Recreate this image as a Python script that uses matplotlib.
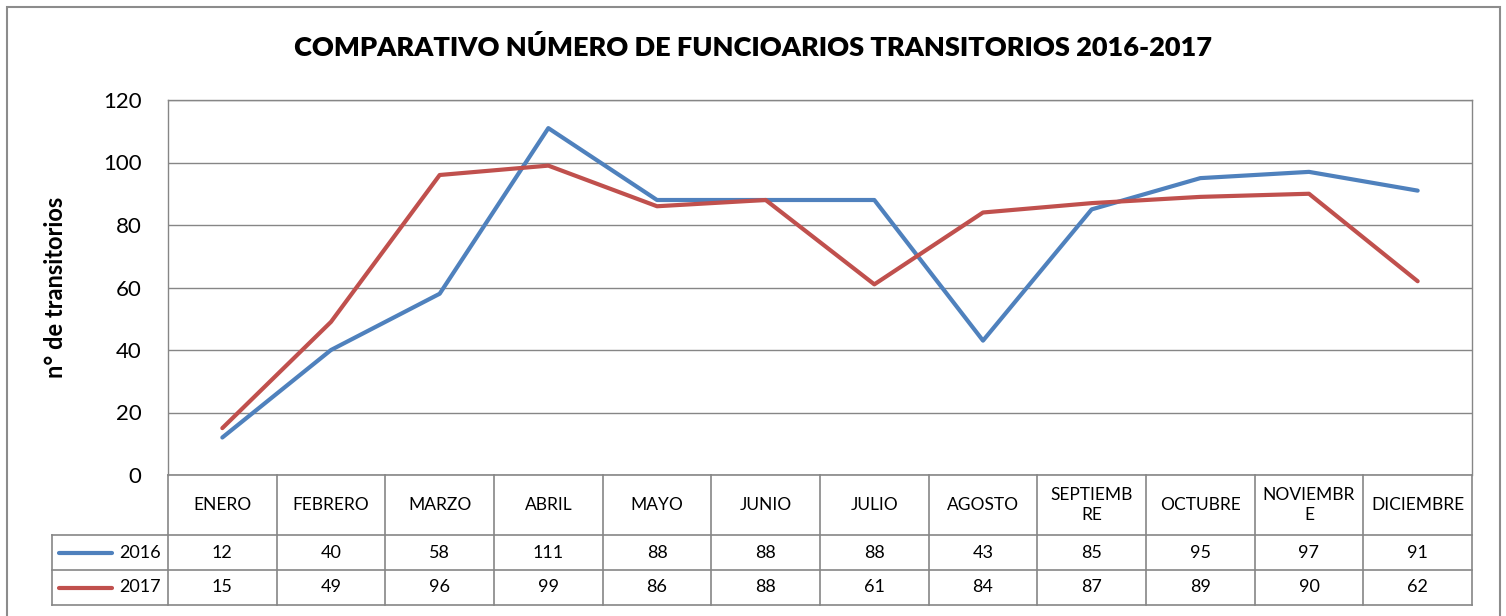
import numpy as np
import matplotlib.pyplot as plt

plt.rcParams['font.family'] = ['Lato', 'DejaVu Sans']

# === Data ===
months = ["ENERO", "FEBRERO", "MARZO", "ABRIL", "MAYO", "JUNIO", "JULIO",
          "AGOSTO", "SEPTIEMB\nRE", "OCTUBRE", "NOVIEMBR\nE", "DICIEMBRE"]
series_names = ["2016", "2017"]
vals_2016 = [12, 40, 58, 111, 88, 88, 88, 43, 85, 95, 97, 91]
vals_2017 = [15, 49, 96, 99, 86, 88, 61, 84, 87, 89, 90, 62]
yticks = [0, 20, 40, 60, 80, 100, 120]

colors = ["#4F81BD", "#C0504D"]
grid_c = "#868686"

W, H = 1506, 616
fig = plt.figure(figsize=(W / 100, H / 100), dpi=100)

# outer chart frame
fig.add_artist(plt.Rectangle((7 / W, -0.05), (1500 - 7) / W, 1.05 - 7 / H,
                             transform=fig.transFigure, fill=False,
                             ec="#8c8c8c", lw=1.5))

# plot area in pixels
left, right, top, bottom = 168, 1472, 100, 475
ax = fig.add_axes([left / W, (H - bottom) / H, (right - left) / W, (bottom - top) / H])

x = np.arange(len(months))
for vals, c, name in zip([vals_2016, vals_2017], colors, series_names):
    ax.plot(x, vals, color=c, lw=3, solid_capstyle="round", zorder=3)

ax.set_xlim(-0.5, len(months) - 0.5)
ax.set_ylim(0, 120)
ax.set_yticks(yticks)
ax.set_yticklabels([str(v) for v in yticks], fontsize=16)
ax.tick_params(axis="y", length=0, pad=19)
ax.set_xticks([])
ax.grid(axis="y", color=grid_c, lw=1)
for s in ax.spines.values():
    s.set_color(grid_c)
    s.set_linewidth(1)
ax.spines["bottom"].set_visible(False)

ax.set_ylabel("n° de transitorios", fontsize=17, fontweight="bold", labelpad=26)
fig.text(0.5, 1 - 47 / H, "COMPARATIVO NÚMERO DE FUNCIOARIOS TRANSITORIOS 2016-2017",
         ha="center", va="center", fontsize=19.5, fontweight="heavy")

# === Data table under the axis ===
ph = bottom - top
def fy(py):
    return (bottom - py) / ph

tr = ax.get_xaxis_transform()
y_head_top, y_head_bot, y_r1_bot, y_r2_bot = fy(475), fy(535), fy(570), fy(605)
lx = -0.5 - (left - 52) / ((right - left) / len(months))

lk = dict(color=grid_c, lw=1.2, transform=tr, clip_on=False)
ax.plot([-0.5, len(months) - 0.5], [y_head_top] * 2, **lk)
for yy in [y_head_bot, y_r1_bot, y_r2_bot]:
    ax.plot([lx, len(months) - 0.5], [yy] * 2, **lk)
for b in np.arange(-0.5, len(months), 1.0):
    ax.plot([b, b], [y_head_top, y_r2_bot], **lk)
ax.plot([lx, lx], [y_head_bot, y_r2_bot], **lk)

for i, m in enumerate(months):
    ax.text(i, (y_head_top + y_head_bot) / 2, m, transform=tr, ha="center",
            va="center", fontsize=12.5, linespacing=1.3, clip_on=False)

rows = [vals_2016, vals_2017]
row_mid = [(y_head_bot + y_r1_bot) / 2, (y_r1_bot + y_r2_bot) / 2]
for vals, ym, c, name in zip(rows, row_mid, colors, series_names):
    for i, v in enumerate(vals):
        ax.text(i, ym, str(v), transform=tr, ha="center", va="center",
                fontsize=13, clip_on=False)
    ax.plot([lx + 0.06, lx + 0.55], [ym, ym], color=c, lw=3,
            solid_capstyle="round", transform=tr, clip_on=False)
    ax.text(-0.57, ym, name, transform=tr, ha="right", va="center",
            fontsize=13, clip_on=False)

fig.savefig("out.png", dpi=100)
